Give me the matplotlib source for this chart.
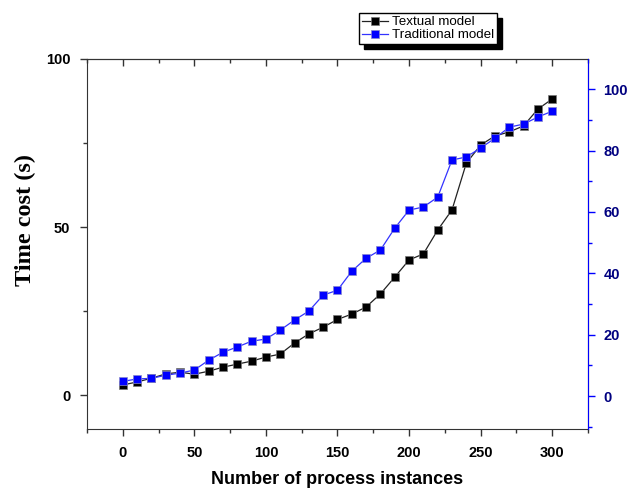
import matplotlib
matplotlib.use("Agg")
import matplotlib.pyplot as plt
from matplotlib.patches import Rectangle
from matplotlib.ticker import MultipleLocator

# process instances 0..300 step 10
instances = [0, 10, 20, 30, 40, 50, 60, 70, 80, 90, 100, 110, 120, 130, 140, 150,
             160, 170, 180, 190, 200, 210, 220, 230, 240, 250, 260, 270, 280, 290, 300]
# left axis (black)
textual = [3.0, 3.9, 5.0, 6.3, 6.8, 6.2, 7.1, 8.3, 9.2, 10.1, 11.3, 12.2, 15.5, 18.2,
           20.2, 22.5, 24.1, 26.2, 30.1, 35.1, 40.2, 42.0, 49.1, 55.1, 69.0, 74.4,
           77.1, 78.3, 80.1, 85.1, 88.1]
# right axis (blue)
traditional = [4.8, 5.6, 5.8, 6.8, 7.5, 8.5, 11.7, 14.3, 16.0, 17.9, 18.6, 21.5, 24.8,
               27.7, 32.9, 34.5, 40.7, 44.9, 47.6, 54.7, 60.6, 61.6, 64.8, 76.9, 77.9,
               80.8, 84.0, 87.6, 88.6, 90.9, 92.8]

plt.rcParams["font.family"] = ["Liberation Sans", "DejaVu Sans"]

fig = plt.figure(figsize=(6.29, 4.88), dpi=100)
ax = fig.add_axes([0.1383, 0.1209, 0.7965, 0.7582])
ax2 = ax.twinx()

l1, = ax.plot(instances, textual, color="#222222", lw=0.9, marker="s", ms=6,
              mfc="black", mec="#777777", mew=0.5, label="Textual model")
l2, = ax2.plot(instances, traditional, color="#3333ff", lw=0.9, marker="s", ms=6,
               mfc="#0000ff", mec="#8888cc", mew=0.5, label="Traditional model")

ax.set_xlim(-25, 325)
ax.set_ylim(-10.1, 100)
ax2.set_ylim(-10.7, 109.8)

ax.xaxis.set_major_locator(MultipleLocator(50))
ax.xaxis.set_minor_locator(MultipleLocator(25))
ax.yaxis.set_major_locator(MultipleLocator(50))
ax.yaxis.set_minor_locator(MultipleLocator(25))
ax2.yaxis.set_major_locator(MultipleLocator(20))
ax2.yaxis.set_minor_locator(MultipleLocator(10))

ax.tick_params(axis="both", which="both", direction="out", colors="#333333",
               labelcolor="black")
ax.tick_params(which="major", length=5, width=1, pad=7)
ax.tick_params(which="minor", length=3, width=1)

# inward ticks along the top edge
top = ax.secondary_xaxis("top")
top.xaxis.set_major_locator(MultipleLocator(50))
top.xaxis.set_minor_locator(MultipleLocator(25))
top.tick_params(which="both", direction="in", colors="#333333", labeltop=False)
top.tick_params(which="major", length=5, width=1)
top.tick_params(which="minor", length=3, width=1)
top.spines["top"].set_color("#333333")

ax2.tick_params(axis="y", which="both", direction="out", colors="#0000ff",
                labelcolor="#000080")
ax2.tick_params(which="major", length=5, width=1, pad=6)
ax2.tick_params(which="minor", length=3, width=1)

for lab in ax.get_xticklabels() + ax.get_yticklabels() + ax2.get_yticklabels():
    lab.set_fontweight("bold")
    lab.set_fontsize(10.5)

for s in ["left", "bottom", "top"]:
    ax.spines[s].set_color("#333333")
ax2.spines["right"].set_color("#0000ff")
for s in ["left", "bottom", "top"]:
    ax2.spines[s].set_visible(False)

ax.set_xlabel("Number of process instances", fontsize=13, fontweight="bold")
ax.xaxis.set_label_coords(0.5, -0.114)
ax.set_ylabel("Time cost (s)", fontsize=17.5, fontweight="bold",
              family=["Liberation Serif", "DejaVu Serif"])
ax.yaxis.set_label_coords(-0.102, 0.565)

leg = fig.legend([l1, l2], ["Textual model", "Traditional model"],
                 loc="upper left", bbox_to_anchor=(0.571, 0.973), borderaxespad=0,
                 fontsize=9.6, fancybox=False, framealpha=1, edgecolor="black",
                 handlelength=2.0, handletextpad=0.3, borderpad=0.2, labelspacing=0.05)
leg.get_frame().set_linewidth(1.0)

fig.canvas.draw()
bb = leg.get_window_extent().transformed(fig.transFigure.inverted())
dx, dy = 5 / 629, 5 / 488
fig.patches.append(Rectangle((bb.x0 + dx, bb.y0 - dy), bb.width, bb.height,
                             transform=fig.transFigure, color="black", zorder=4))

fig.savefig("out.png", dpi=100)
